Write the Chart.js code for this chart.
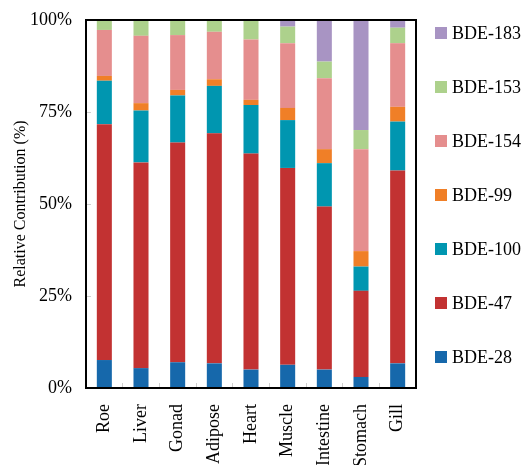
<!DOCTYPE html>
<html>
<head>
<meta charset="utf-8">
<script src="https://cdn.jsdelivr.net/npm/chart.js@4.4.1/dist/chart.umd.min.js"></script>
<style>
  html, body { margin: 0; padding: 0; background: #fff; }
  #wrap { width: 526px; height: 465px; }
</style>
</head>
<body>
<div id="wrap"><canvas id="c"></canvas></div>
<script>
const tissues = ["Roe", "Liver", "Gonad", "Adipose", "Heart", "Muscle", "Intestine", "Stomach", "Gill"];

// relative contribution, %
const bde28 = [7.6, 5.4, 7.0, 6.7, 5.0, 6.3, 5.0, 3.0, 6.7];
const bde47 = [64.1, 55.9, 59.7, 62.5, 58.7, 53.5, 44.3, 23.4, 52.4];
const bde100 = [11.8, 14.1, 12.8, 12.9, 13.2, 13.0, 11.8, 6.6, 13.3];
const bde99 = [1.3, 2.0, 1.5, 1.8, 1.4, 3.3, 3.8, 4.2, 4.0];
const bde154 = [12.5, 18.3, 14.9, 12.9, 16.4, 17.6, 19.3, 27.7, 17.3];
const bde153 = [2.7, 4.3, 4.1, 3.2, 5.3, 4.5, 4.5, 5.2, 4.2];
const bde183 = [0, 0, 0, 0, 0, 1.8, 11.3, 29.9, 2.1];

const yTicks = [0, 25, 50, 75, 100];

const serif = "'Liberation Serif', 'Times New Roman', serif";

const series = [
  { label: "BDE-28", data: bde28, color: "#1668ab" },
  { label: "BDE-47", data: bde47, color: "#c23232" },
  { label: "BDE-100", data: bde100, color: "#0096b0" },
  { label: "BDE-99", data: bde99, color: "#f07f27" },
  { label: "BDE-154", data: bde154, color: "#e58e8e" },
  { label: "BDE-153", data: bde153, color: "#add18c" },
  { label: "BDE-183", data: bde183, color: "#a894c3" },
];

// frame round the plot + legend on the right (top item = last series)
const framePlugin = {
  id: "frame",
  afterDraw(chart) {
    const { ctx, chartArea: a } = chart;
    ctx.save();
    ctx.strokeStyle = "#000";
    ctx.lineWidth = 2;
    ctx.strokeRect(a.left, a.top, a.right - a.left, a.bottom - a.top);

    const ds = chart.data.datasets;
    ctx.font = "18px " + serif;
    ctx.textBaseline = "middle";
    for (let i = 0; i < ds.length; i++) {
      const d = ds[ds.length - 1 - i];
      const y = 33 + 54 * i;
      ctx.fillStyle = d.backgroundColor;
      ctx.fillRect(a.right + 19, y - 6, 12, 12);
      ctx.fillStyle = "#000";
      ctx.fillText(d.label, a.right + 36, y + 1);
    }
    ctx.restore();
  }
};

new Chart(document.getElementById("c"), {
  type: "bar",
  data: {
    labels: tissues,
    datasets: series.map(s => ({
      label: s.label,
      data: s.data,
      backgroundColor: s.color,
      borderWidth: 0,
      categoryPercentage: 1,
      barPercentage: 0.41,
    })),
  },
  options: {
    responsive: true,
    maintainAspectRatio: false,
    animation: false,
    layout: { padding: { top: 20, right: 110, left: 0, bottom: 0 } },
    plugins: {
      legend: { display: false },
      tooltip: { enabled: false },
    },
    scales: {
      x: {
        stacked: true,
        // short light ticks pointing into the plot, between the bars
        grid: { display: true, drawOnChartArea: false, drawTicks: true, tickLength: -5, color: "#cfcfcf", lineWidth: 1 },
        border: { display: false },
        ticks: {
          color: "#000",
          font: { family: serif, size: 18 },
          minRotation: 90,
          maxRotation: 90,
          padding: 21,
        },
        afterFit(s) { s.height = 77; s.paddingLeft = 0; s.paddingRight = 0; },
      },
      y: {
        stacked: true,
        min: 0,
        max: 100,
        afterBuildTicks(s) { s.ticks = yTicks.map(v => ({ value: v })); },
        grid: { display: true, drawOnChartArea: false, drawTicks: true, tickLength: -5, color: "#cfcfcf", lineWidth: 1 },
        border: { display: false },
        ticks: {
          color: "#000",
          font: { family: serif, size: 18 },
          padding: 19,
          callback: v => v + "%",
        },
        title: {
          display: true,
          text: "Relative Contribution (%)",
          color: "#000",
          font: { family: serif, size: 16 },
          padding: { top: 11, bottom: 0 },
        },
        afterFit(s) { s.width = 86; s.paddingTop = 0; s.paddingBottom = 0; },
      },
    },
  },
  plugins: [framePlugin],
});
</script>
</body>
</html>
